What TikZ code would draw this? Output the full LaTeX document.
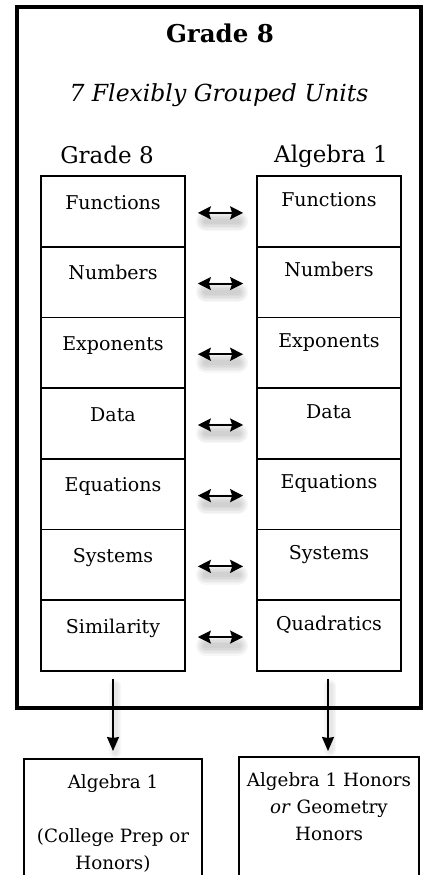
\documentclass[tikz,border=0pt]{standalone}
\usepackage{fontspec}
\setmainfont{DejaVu Serif}
\usetikzlibrary{arrows.meta}
\begin{document}
\begin{tikzpicture}[x=1pt,y=-1pt,
  unit/.style={draw,line width=1.7pt,minimum width=144pt,minimum height=70.7pt,inner sep=0pt,
    font=\fontsize{19}{22}\selectfont,text height=14pt},
  lunit/.style={unit,text depth=18.7pt},
  runit/.style={unit,text depth=24.7pt},
  swaparrow/.style={{Stealth[length=13pt,width=13pt,inset=2pt]}-{Stealth[length=13pt,width=13pt,inset=2pt]},line width=2pt},
  shadowline/.style={line cap=round,black,opacity=0.03},
  downarrow/.style={-{Stealth[length=14pt,width=12pt,inset=1pt]},line width=1.6pt},
  outcome/.style={draw,line width=2pt,minimum height=160pt,anchor=north,inner sep=0pt},
  outtext/.style={anchor=north,align=center,inner sep=0pt,font=\fontsize{18.3}{27}\selectfont},
  heading/.style={font=\fontsize{23}{26}\selectfont,inner sep=0pt}
]
\useasboundingbox (0,0) rectangle (425,875);
\clip (0,0) rectangle (425,875);
\fill[white] (0,0) rectangle (425,875);
% outer frame
\node[draw,line width=4pt,minimum width=404pt,minimum height=700.5pt,inner sep=0pt] (frame) at (219,357.25) {};
\node[font=\bfseries\fontsize{24.5}{28}\selectfont,inner sep=0pt] (title) at (220,33) {Grade 8};
\node[font=\itshape\fontsize{23.5}{26}\selectfont,inner sep=0pt] (sub) at (219,95) {7 Flexibly Grouped Units};
\node[heading] (hl) at (107,155) {Grade 8};
\node[heading] (hr) at (331,156) {Algebra 1};
% units
\foreach \i/\a/\b in {1/Functions/Functions,2/Numbers/Numbers,3/Exponents/Exponents,4/Data/Data,5/Equations/Equations,6/Systems/Systems,7/Similarity/Quadratics}{
  \pgfmathsetmacro\cy{211.35+70.7*(\i-1)}
  \node[lunit] (L\i) at (113,\cy) {\a};
  \node[runit] (R\i) at (329,\cy) {\b};
}
% swap arrows with soft shadows
\foreach \i in {1,...,7}{
  \foreach \w in {20,17,14,11,8,5}{
    \draw[shadowline,line width=\w pt] ([xshift=20pt,yshift=-10pt]L\i.east) -- ([xshift=-18pt,yshift=-10pt]R\i.west);
  }
  \draw[swaparrow] ([xshift=12pt,yshift=-1.5pt]L\i.east) -- ([xshift=-13pt,yshift=-1.5pt]R\i.west);
}
% outcomes
\node[outcome,minimum width=178pt] (B1) at (113,758) {};
\node[outcome,minimum width=180pt] (B2) at (329,756) {};
\node[outtext] (T1) at (113,774) {Algebra 1\\[27pt](College Prep or\\Honors)};
\node[outtext] (T2) at (329,772) {Algebra 1 Honors\\\textit{or} Geometry\\Honors};
\foreach \w in {12,9,6}{
  \draw[shadowline,line width=\w pt] ([xshift=2pt,yshift=-14pt]L7.south) -- ([xshift=2pt,yshift=6pt]B1.north);
  \draw[shadowline,line width=\w pt] ([xshift=1pt,yshift=-14pt]R7.south) -- ([xshift=1pt,yshift=6pt]B2.north -| R7.south);
}
\draw[downarrow] ([yshift=-7pt]L7.south) -- ([yshift=7pt]B1.north);
\draw[downarrow] ([yshift=-7pt,xshift=-1pt]R7.south) -- ([yshift=5pt,xshift=-1pt]B2.north -| R7.south);
\end{tikzpicture}
\end{document}
